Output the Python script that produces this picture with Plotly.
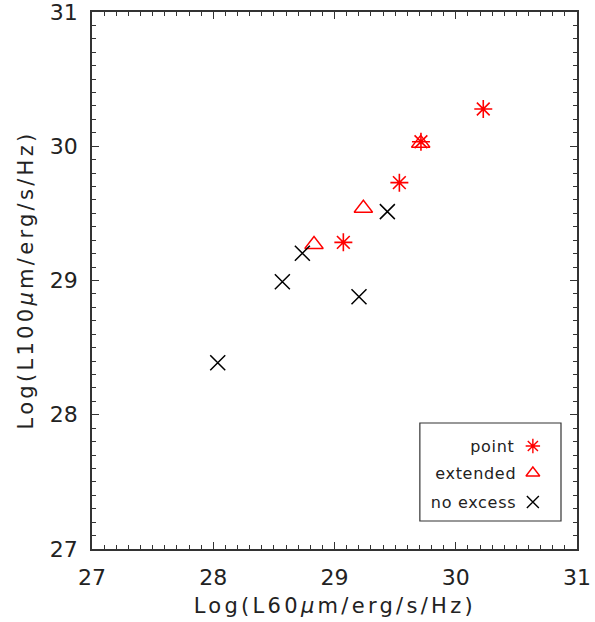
import plotly.graph_objects as go

# Data
point_x = [29.073, 29.535, 29.713, 30.227]
point_y = [29.284, 29.729, 30.034, 30.277]

ext_x = [28.831, 29.238, 29.711]
ext_y = [29.268, 29.538, 30.022]

noex_x = [28.037, 28.570, 28.735, 29.202, 29.436]
noex_y = [28.388, 28.991, 29.203, 28.879, 29.513]

tick_vals = [27, 28, 29, 30, 31]
tick_text = ["27", "28", "29", "30", "31"]

legend_labels = ["point", "extended", "no excess"]

RED = "#ff0000"
FONT = "DejaVu Sans"

fig = go.Figure()

fig.add_trace(go.Scatter(x=point_x, y=point_y, mode="markers",
                         marker=dict(symbol="asterisk-open", size=15, color=RED,
                                     line=dict(color=RED, width=1.6)),
                         showlegend=False))
fig.add_trace(go.Scatter(x=ext_x, y=ext_y, mode="markers",
                         marker=dict(symbol="triangle-up-open", size=16,
                                     color=RED, line=dict(color=RED, width=1.4)),
                         showlegend=False))
fig.add_trace(go.Scatter(x=noex_x, y=noex_y, mode="markers",
                         marker=dict(symbol="x-thin-open", size=15, color="black",
                                     line=dict(color="black", width=1.5)),
                         showlegend=False))

# custom legend (text left of symbol) on an overlay 0..1 axis
leg_y = [0.1918, 0.1415, 0.0875]
leg_sym = ["asterisk-open", "triangle-up-open", "x-thin-open"]
leg_col = [RED, RED, "black"]
for lab, yy, sym, col in zip(legend_labels, leg_y, leg_sym, leg_col):
    fig.add_trace(go.Scatter(x=[0.909], y=[yy], mode="markers", xaxis="x2", yaxis="y2",
                             marker=dict(symbol=sym, size=12, color=col,
                                         line=dict(color=col, width=1.4)),
                             showlegend=False, hoverinfo="skip"))
    fig.add_annotation(x=0.872, y=yy, xref="paper", yref="paper", text=lab,
                       showarrow=False, xanchor="right", yanchor="middle",
                       font=dict(family=FONT, size=16, color="#222"))

fig.add_shape(type="rect", xref="paper", yref="paper", x0=0.676, x1=0.967,
              y0=0.0521, y1=0.2346, line=dict(color="#333", width=1.2),
              fillcolor="rgba(0,0,0,0)")

axis_common = dict(
    range=[27, 31], tickmode="array", tickvals=tick_vals, ticktext=tick_text,
    ticks="inside", ticklen=7, tickwidth=1.2, tickcolor="#333",
    showline=True, linecolor="#333", linewidth=1.5, mirror="allticks",
    showgrid=False, zeroline=False, ticklabeloverflow="allow",
    tickfont=dict(family=FONT, size=22, color="#222"),
    minor=dict(dtick=0.1, tick0=27, ticks="inside", ticklen=4, tickcolor="#333",
               tickwidth=1.2, showgrid=False),
)

fig.update_layout(
    width=595, height=622,
    margin=dict(l=92, r=18, t=12, b=73, autoexpand=False),
    paper_bgcolor="white", plot_bgcolor="white",
    xaxis=dict(**axis_common, ticklabelstandoff=8),
    yaxis=dict(**axis_common, ticklabelstandoff=8),
    xaxis2=dict(range=[0, 1], overlaying="x", visible=False, fixedrange=True),
    yaxis2=dict(range=[0, 1], overlaying="y", visible=False, fixedrange=True),
    showlegend=False,
)

fig.add_annotation(x=0.5, y=(549 - 606) / 537, xref="paper", yref="paper",
                   text="Log(L60<i>μ</i>m/erg/s/Hz)", showarrow=False,
                   xanchor="center", yanchor="middle",
                   font=dict(family=FONT, size=21, color="#222"))
fig.add_annotation(x=(25 - 92) / 485, y=0.5, xref="paper", yref="paper",
                   text="Log(L100<i>μ</i>m/erg/s/Hz)", showarrow=False, textangle=-90,
                   xanchor="center", yanchor="middle",
                   font=dict(family=FONT, size=21, color="#222"))

post = """
document.body.style.margin='0';
var gd = document.getElementById('{plot_id}');
function spacing(){
  document.querySelectorAll('.annotation-text').forEach(function(e){
    var t = e.textContent;
    if (t.indexOf('erg') >= 0) { e.style.letterSpacing = '3.3px'; }
    else { e.style.letterSpacing = '0.7px'; }
  });
}
spacing();
setTimeout(spacing, 0);
if (gd && gd.on) { gd.on('plotly_afterplot', spacing); }
"""

fig.write_html("out.html", post_script=post, config={"displayModeBar": False})
